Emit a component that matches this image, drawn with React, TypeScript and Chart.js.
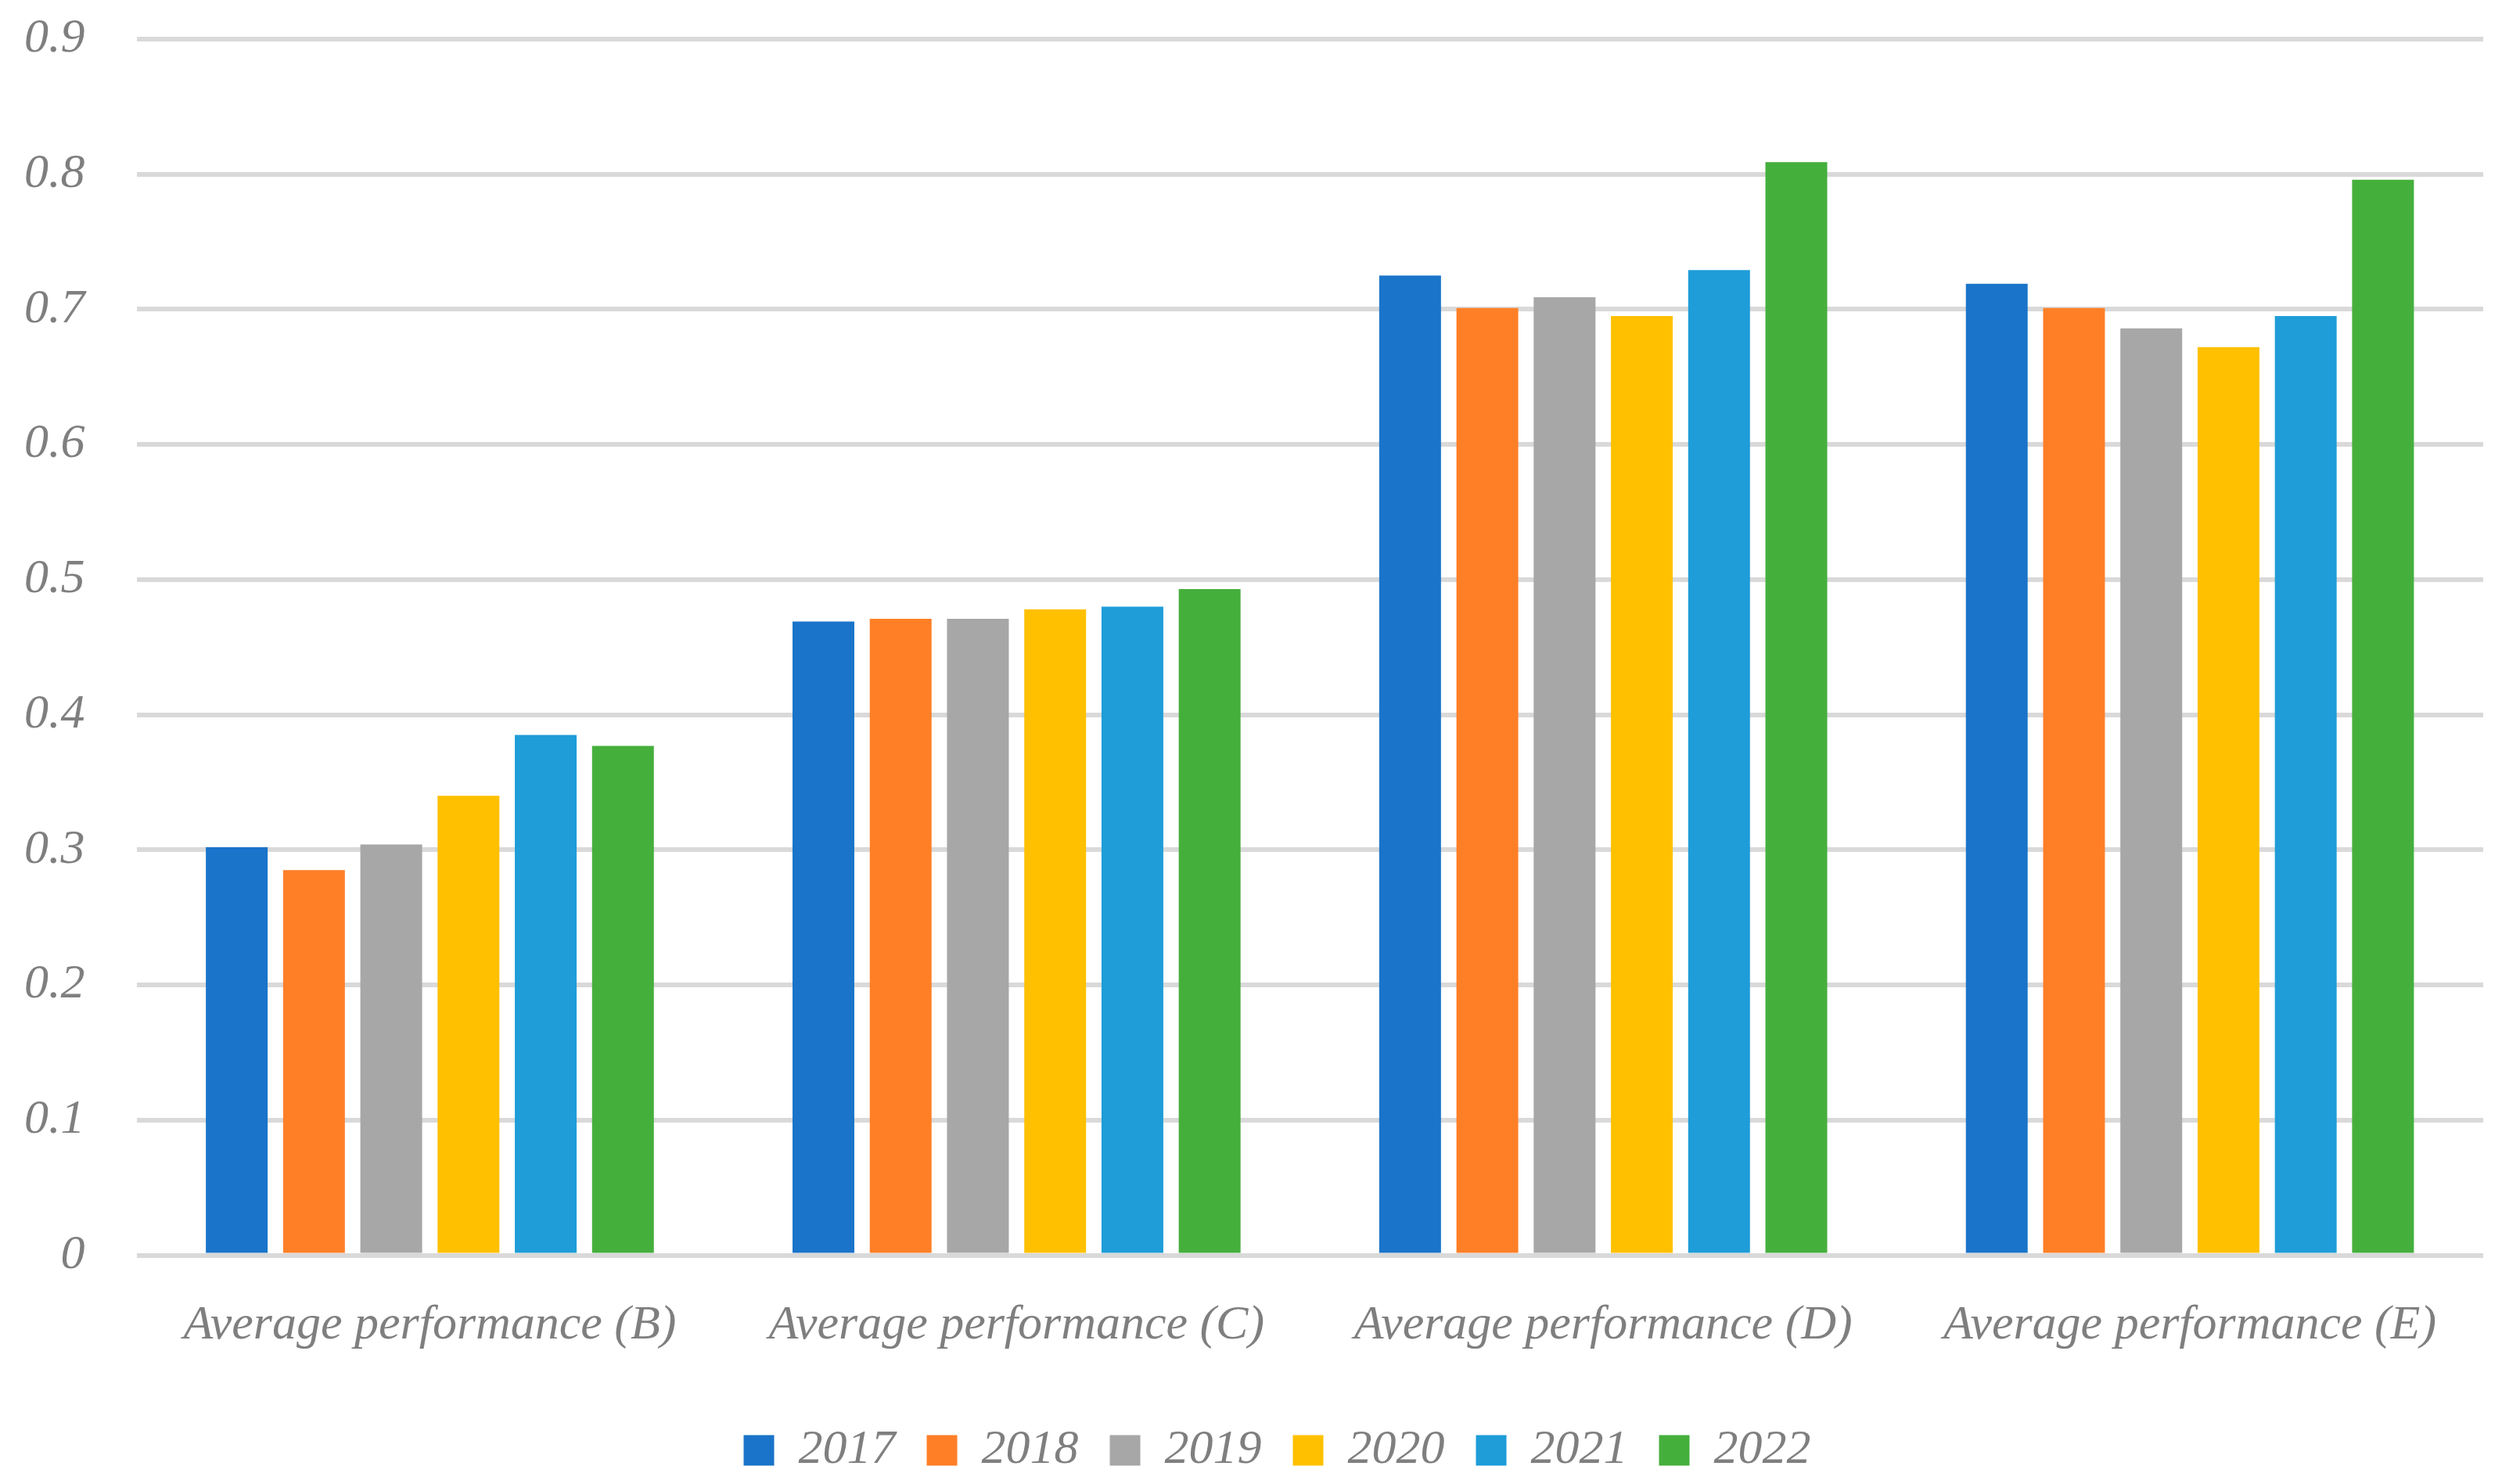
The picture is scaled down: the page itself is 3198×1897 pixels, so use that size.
import React, { useEffect, useRef } from "react";
import { Chart, registerables } from "chart.js";

Chart.register(...registerables);

const categories = [
  "Average performance (B)",
  "Average performance (C)",
  "Average performance (D)",
  "Average performance (E)",
];
const years = ["2017", "2018", "2019", "2020", "2021", "2022"];
const v2017 = [0.302, 0.469, 0.725, 0.719];
const v2018 = [0.285, 0.471, 0.701, 0.701];
const v2019 = [0.304, 0.471, 0.709, 0.686];
const v2020 = [0.34, 0.478, 0.695, 0.672];
const v2021 = [0.385, 0.48, 0.729, 0.695];
const v2022 = [0.377, 0.493, 0.809, 0.796];
const colors = ["#1A74C9", "#FF7F27", "#A7A7A7", "#FFC000", "#1E9DD8", "#45AF3C"];
const yTicks = [0, 0.1, 0.2, 0.3, 0.4, 0.5, 0.6, 0.7, 0.8, 0.9];

const FONT = "'Liberation Serif', 'DejaVu Serif', serif";

const legendShift = {
  id: "legendShift",
  afterLayout(chart: any) {
    const lg = chart.legend;
    if (lg) {
      lg.left += 63;
      lg.right += 63;
      lg.top += 6;
      lg.bottom += 6;
    }
  },
};

export default function App() {
  const ref = useRef<HTMLCanvasElement | null>(null);
  useEffect(() => {
    if (!ref.current) return;
    const series = [v2017, v2018, v2019, v2020, v2021, v2022];
    const chart = new Chart(ref.current, {
      type: "bar",
      data: {
        labels: categories,
        datasets: years.map((y, i) => ({
          label: y,
          data: series[i],
          backgroundColor: colors[i],
          borderWidth: 0,
          barPercentage: 0.8,
          categoryPercentage: 0.79,
        })),
      },
      plugins: [legendShift],
      options: {
        animation: false,
        responsive: true,
        maintainAspectRatio: false,
        devicePixelRatio: 1,
        layout: { padding: { top: 50, right: 24, left: -35, bottom: 8 } },
        plugins: {
          tooltip: { enabled: false },
          legend: {
            position: "bottom",
            labels: {
              boxWidth: 39,
              boxHeight: 39,
              padding: 40,
              color: "#7F7F7F",
              font: { family: FONT, size: 62, style: "italic" },
            },
          },
        },
        scales: {
          x: {
            grid: { display: false },
            border: { display: false },
            ticks: {
              color: "#7F7F7F",
              padding: 45,
              maxRotation: 0,
              font: { family: FONT, size: 62, style: "italic" },
            },
          },
          y: {
            min: 0,
            max: 0.9,
            afterBuildTicks: (axis: any) => {
              axis.ticks = yTicks.map((v) => ({ value: v }));
            },
            afterFit: (s: any) => {
              s.paddingTop = 0;
              s.paddingBottom = 0;
            },
            grid: { color: "#D9D9D9", lineWidth: 6, drawTicks: false },
            border: { display: false },
            ticks: {
              color: "#7F7F7F",
              padding: 66,
              font: { family: FONT, size: 62, style: "italic" },
              callback: (v: any) => String(Math.round(Number(v) * 10) / 10),
            },
          },
        },
      },
    });
    return () => chart.destroy();
  }, []);
  return (
    <div
      style={{
        position: "fixed",
        left: 0,
        top: 0,
        width: "3198px",
        height: "1897px",
        background: "#fff",
      }}
    >
      <canvas ref={ref} />
    </div>
  );
}
